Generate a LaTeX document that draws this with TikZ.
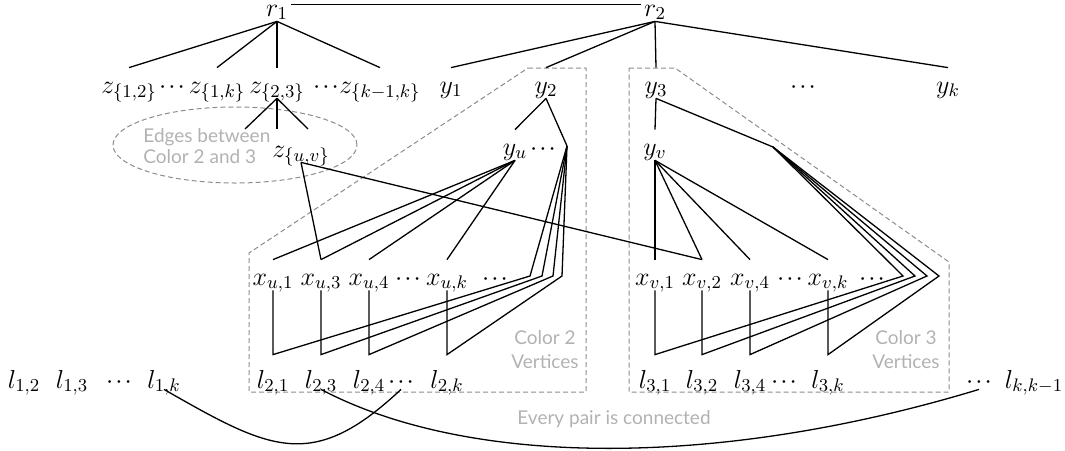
\RequirePackage{fix-cm}
\documentclass[tikz,border=0pt]{standalone}
\usepackage{fontspec}
\newfontfamily\notefont{Lato}
\newcommand{\tdots}{\cdotp\mkern-1.5mu\cdotp\mkern-1.5mu\cdotp}

\begin{document}
\begin{tikzpicture}[x=0.5pt, y=-0.5pt, font=\fontsize{13}{15.6}\selectfont]
  \tikzset{
    vtx/.style={anchor=base, inner sep=0pt, text height=12.5pt, text depth=2.5pt},
    lvtx/.style={vtx, text height=16.5pt, text depth=0.5pt},
    root/.style={anchor=base, inner xsep=1.5pt, inner ysep=0pt, text height=5.5pt, text depth=2.5pt},
    note/.style={font=\notefont\fontsize{9.5}{12}\selectfont, text=black!30, align=center, inner sep=0pt},
    EdgeStyle/.style={line width=0.65pt},
    GroupStyle/.style={draw=black!45, line width=0.5pt, dash pattern=on 2.5pt off 1.5pt}
  }
  \useasboundingbox (0,0) rectangle (1065,450);

  % color groups
  \draw[GroupStyle] (528,68) -- (586,68) -- (586,392) -- (249,392) -- (249,253) -- cycle;
  \draw[GroupStyle] (629,68) -- (675,68) -- (949,262) -- (949,392) -- (629,392) -- cycle;
  \draw[GroupStyle] (235,145) ellipse [x radius=61pt, y radius=19pt];

  \node[note, align=left, anchor=west, font=\notefont\fontsize{9.5}{10.8}\selectfont] (edgenote) at (143,146) {Edges between\\Color 2 and 3};
  \node[note] (c2note) at (545,350) {Color 2\\Vertices};
  \node[note] (c3note) at (906,350) {Color 3\\Vertices};
  \node[note] (pairnote) at (614,419) {Every pair is connected};

  % roots
  \node[root] (r1) at (277,16) {$r_1$};
  \node[root] (r2) at (655,16) {$r_2$};

  % z and y row
  \node[vtx] (z12) at (129,93) {$z_{\{1,2\}}$};
  \node[vtx] (zd1) at (172,93) {$\tdots$};
  \node[vtx] (z1k) at (217,93) {$z_{\{1,k\}}$};
  \node[vtx] (z23) at (277,93) {$z_{\{2,3\}}$};
  \node[vtx] (zd2) at (326,93) {$\tdots$};
  \node[vtx] (zkk) at (380,93) {$z_{\{k-1,k\}}$};
  \node[vtx] (y1) at (451,93) {$y_1$};
  \node[vtx] (y2) at (546,93) {$y_2$};
  \node[vtx] (y3) at (656,93) {$y_3$};
  \node[vtx] (yd) at (803,93) {$\tdots$};
  \node[vtx] (yk) at (948,93) {$y_k$};

  \node[vtx] (zuv) at (301,157) {$z_{\{u,v\}}$};
  \node[vtx] (yu) at (515,155) {$y_u$};
  \node[vtx] (yud) at (543,155) {$\tdots$};
  \node[vtx] (yv) at (655,155) {$y_v$};

  % x row
  \node[vtx] (xu1) at (273,285) {$x_{u,1}$};
  \node[vtx] (xu3) at (321,285) {$x_{u,3}$};
  \node[vtx] (xu4) at (369,285) {$x_{u,4}$};
  \node[vtx] (xud1) at (408,285) {$\tdots$};
  \node[vtx] (xuk) at (447,285) {$x_{u,k}$};
  \node[vtx] (xud2) at (495,285) {$\tdots$};
  \node[vtx] (xv1) at (655,285) {$x_{v,1}$};
  \node[vtx] (xv2) at (702,285) {$x_{v,2}$};
  \node[vtx] (xv4) at (750,285) {$x_{v,4}$};
  \node[vtx] (xvd1) at (790,285) {$\tdots$};
  \node[vtx] (xvk) at (828,285) {$x_{v,k}$};
  \node[vtx] (xvd2) at (872,285) {$\tdots$};

  % l row
  \node[lvtx] (l12) at (24,388) {$l_{1,2}$};
  \node[lvtx] (l13) at (72,388) {$l_{1,3}$};
  \node[lvtx] (l1d) at (119,388) {$\tdots$};
  \node[lvtx] (l1k) at (164,388) {$l_{1,k}$};
  \node[lvtx] (l21) at (273,388) {$l_{2,1}$};
  \node[lvtx] (l23) at (321,388) {$l_{2,3}$};
  \node[lvtx] (l24) at (369,388) {$l_{2,4}$};
  \node[lvtx] (l2d) at (401,388) {$\tdots$};
  \node[lvtx] (l2k) at (447,388) {$l_{2,k}$};
  \node[lvtx] (l31) at (655,388) {$l_{3,1}$};
  \node[lvtx] (l32) at (702,388) {$l_{3,2}$};
  \node[lvtx] (l34) at (750,388) {$l_{3,4}$};
  \node[lvtx] (l3d) at (784,388) {$\tdots$};
  \node[lvtx] (l3k) at (828,388) {$l_{3,k}$};
  \node[lvtx] (lkd) at (979,388) {$\tdots$};
  \node[lvtx] (lkk) at (1034,388) {$l_{k,k-1}$};

  % bends of the bundled edges
  \coordinate (J2) at (567,146);
  \coordinate (P1) at (530,276);
  \coordinate (P2) at (542,276);
  \coordinate (P3) at (553,276);
  \coordinate (P4) at (562,276);
  \coordinate (J3) at (773,147);
  \coordinate (Q1) at (903,276);
  \coordinate (Q2) at (915,276);
  \coordinate (Q3) at (927,276);
  \coordinate (Q4) at (939,276);
  \coordinate (s1) at (245,129);
  \coordinate (s2) at (277,129);
  \coordinate (s3) at (308,129);

  % edges
  \draw[EdgeStyle] (r1.north east) -- (r2.north west);
  \draw[EdgeStyle] (r1.south) -- (z12.north);
  \draw[EdgeStyle] (r1.south) -- (z1k.north);
  \draw[EdgeStyle] (r1.south) -- (z23.north);
  \draw[EdgeStyle] (r1.south) -- (zkk.north);
  \draw[EdgeStyle] (r2.south) -- (y1.north);
  \draw[EdgeStyle] (r2.south) -- (y2.north);
  \draw[EdgeStyle] (r2.south) -- (y3.north);
  \draw[EdgeStyle] (r2.south) -- (yk.north);

  \draw[EdgeStyle] (z23.south) -- (s1);
  \draw[EdgeStyle] (z23.south) -- (s2);
  \draw[EdgeStyle] (z23.south) -- (s3);
  \draw[EdgeStyle] (zuv.south) -- (xu3.north);
  \draw[EdgeStyle] (zuv.south) -- (xv2.north);

  \draw[EdgeStyle] (y2.south) -- (yu.north);
  \draw[EdgeStyle] (yu.south) -- (xu1.north);
  \draw[EdgeStyle] (yu.south) -- (xu3.north);
  \draw[EdgeStyle] (yu.south) -- (xu4.north);
  \draw[EdgeStyle] (yu.south) -- (xuk.north);
  \draw[EdgeStyle] (xu1.south) -- (l21.north) -- (P1) -- (J2) -- (y2.south);
  \draw[EdgeStyle] (xu3.south) -- (l23.north) -- (P2) -- (J2);
  \draw[EdgeStyle] (xu4.south) -- (l24.north) -- (P3) -- (J2);
  \draw[EdgeStyle] (xuk.south) -- (l2k.north) -- (P4) -- (J2);

  \draw[EdgeStyle] (y3.south) -- (yv.north);
  \draw[EdgeStyle] (yv.south) -- (xv1.north);
  \draw[EdgeStyle] (yv.south) -- (xv2.north);
  \draw[EdgeStyle] (yv.south) -- (xv4.north);
  \draw[EdgeStyle] (yv.south) -- (xvk.north);
  \draw[EdgeStyle] (xv1.south) -- (l31.north) -- (Q1) -- (J3) -- (y3.south);
  \draw[EdgeStyle] (xv2.south) -- (l32.north) -- (Q2) -- (J3);
  \draw[EdgeStyle] (xv4.south) -- (l34.north) -- (Q3) -- (J3);
  \draw[EdgeStyle] (xvk.south) -- (l3k.north) -- (Q4) -- (J3);

  \draw[EdgeStyle] (l1k.south) .. controls (270,450) and (312,473) .. (l2d.south);
  \draw[EdgeStyle] (l23.south) .. controls (470,468) and (720,468) .. (lkd.south);
\end{tikzpicture}
\end{document}
